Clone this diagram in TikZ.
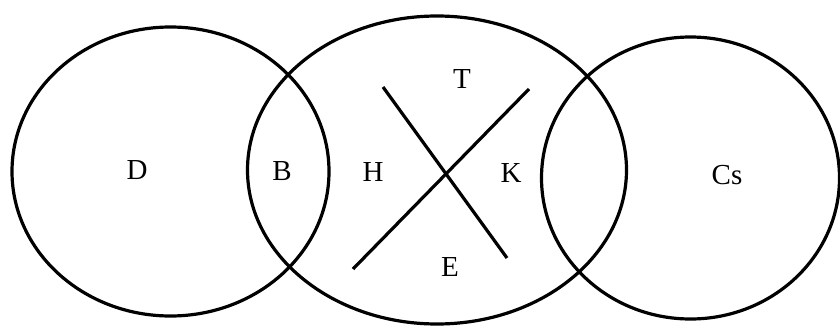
\documentclass[tikz,border=0pt]{standalone}
\usepackage{fontspec}
\setmainfont{Liberation Serif}
\begin{document}
\begin{tikzpicture}[x=1pt,y=1pt,
  ring/.style={line width=3.2pt},
  bar/.style={line width=3.2pt},
  lbl/.style={inner sep=0pt,font=\fontsize{29}{29}\selectfont}]
\useasboundingbox[fill=white] (0,0) rectangle (840,325);
% ellipses (y = 325 - y_img)
\draw[ring] (170.5,153.5) ellipse [x radius=158.5, y radius=144.5];
\draw[ring] (437,155) ellipse [x radius=189.5, y radius=154];
\draw[ring] (690.5,147) ellipse [x radius=149, y radius=141];
% cross
\coordinate (a1) at (383,238);
\coordinate (a2) at (507,67);
\coordinate (b1) at (353,56);
\coordinate (b2) at (529,236);
\draw[bar] (a1) -- (a2);
\draw[bar] (b1) -- (b2);
% labels
\node[lbl] (D) at (137,155) {D};
\node[lbl] (B) at (282,154) {B};
\node[lbl] (H) at (373,153) {H};
\node[lbl] (T) at (462,246) {T};
\node[lbl] (K) at (511,152) {K};
\node[lbl] (E) at (450,58) {E};
\node[lbl] (Cs) at (727,150) {Cs};
\end{tikzpicture}
\end{document}
